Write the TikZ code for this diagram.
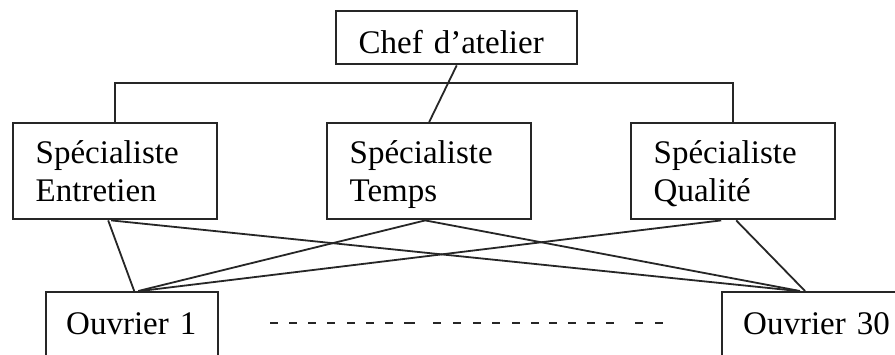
\documentclass[tikz,border=0pt]{standalone}
\usepackage{fontspec}
\setmainfont{Liberation Serif}
\newcommand\lnstrut{\rule[-8pt]{0pt}{38pt}}
\newcommand\orgboxfont{\fontsize{33}{38}\selectfont\spaceskip=5.5pt\relax}
\begin{document}
\begin{tikzpicture}[x=1pt,y=-1pt,
  box/.style={draw=black!85, line width=2.4pt, inner ysep=0pt, inner xsep=22.5pt, fill=white,
    anchor=north west, align=left, font=\orgboxfont},
  spec/.style={box, minimum height=96pt, text width=159pt},
  link/.style={draw=black!85, line width=1.8pt},
  dotsline/.style={draw=black!85, line width=2.2pt,
    dash pattern=on 8pt off 11pt on 8pt off 11pt on 8pt off 11pt on 8pt off 12pt
      on 8pt off 11pt on 8pt off 11pt on 8pt off 11pt on 11pt off 18pt
      on 8pt off 12pt on 8pt off 12pt on 8pt off 11pt on 8pt off 12pt
      on 8pt off 11pt on 8pt off 10pt on 8pt off 11pt on 8pt off 11pt
      on 8pt off 11pt on 8pt off 21pt on 8pt off 12pt on 8pt off 40pt}
]
\useasboundingbox[fill=white] (0,0) rectangle (895,354);
% nodes
\node[box, text width=196pt, minimum height=53.5pt, text height=31.5pt, text depth=0pt] (C) at (335,9.5) {Chef d’atelier};
\node[spec] (E) at (12,122) {\lnstrut Spécialiste\\\lnstrut Entretien};
\node[spec] (T) at (326,122) {\lnstrut Spécialiste\\\lnstrut Temps};
\node[spec] (Q) at (630,122) {\lnstrut Spécialiste\\\lnstrut Qualité};
\node[box, inner xsep=20pt, text width=132pt, minimum height=66pt, text height=22pt, text depth=4pt] (O1) at (45,291) {Ouvrier 1};
\node[box, inner xsep=21pt, text width=160pt, minimum height=66pt, text height=22pt, text depth=4pt] (O30) at (721,291) {Ouvrier 30};
\coordinate (bar) at (0,83);
\coordinate (d1) at (270,323);
\coordinate (d2) at (663,323);
% connectors
\draw[link] (E.north) -- (E.north |- bar) -- (Q.north |- bar) -- (Q.north);
\draw[link] (C.south) -- (T.north);
\draw[link] ([xshift=-7pt]E.south) -- ([xshift=2pt]O1.north);
\draw[link] ([xshift=-4pt]E.south) -- ([xshift=77pt]O30.north west);
\draw[link] ([xshift=-4pt]T.south) -- ([xshift=6pt]O1.north);
\draw[link] ([xshift=-4pt]T.south) -- ([xshift=79pt]O30.north west);
\draw[link] ([xshift=-12pt]Q.south) -- ([xshift=8pt]O1.north);
\draw[link] ([xshift=3pt]Q.south) -- ([xshift=84pt]O30.north west);
\draw[dotsline] (d1) -- (d2);
\end{tikzpicture}
\end{document}
